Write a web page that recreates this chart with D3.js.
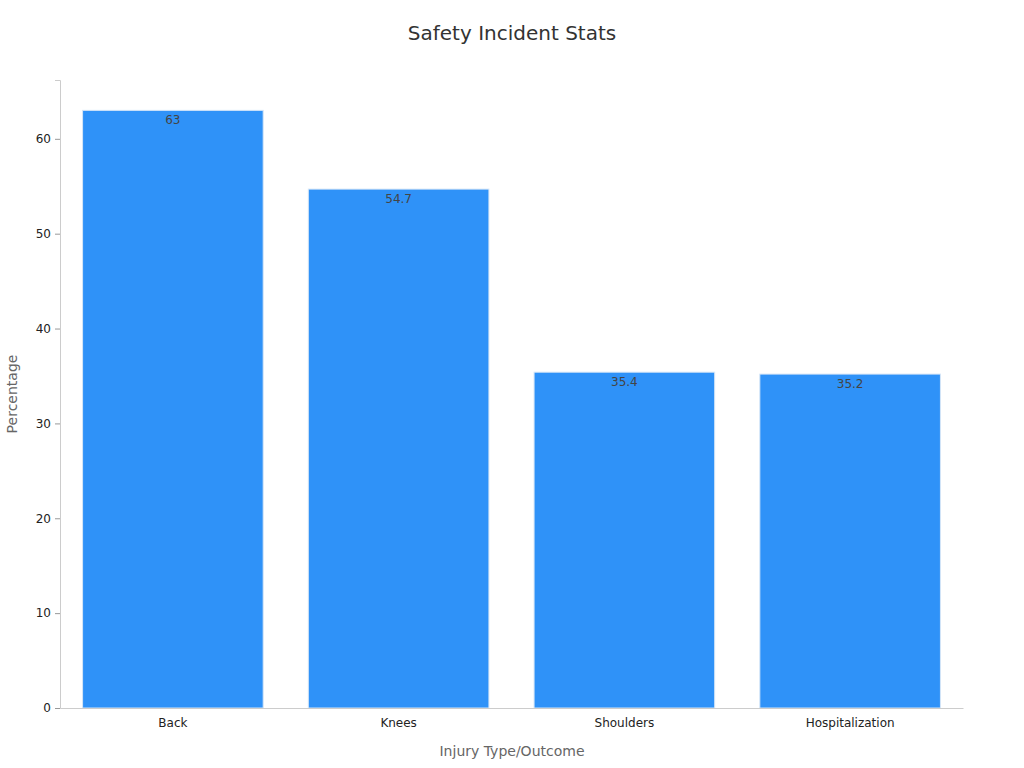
<!DOCTYPE html>
<html><head><meta charset="utf-8">
<script src="https://cdn.jsdelivr.net/npm/d3@7"></script>
<style>body{margin:0;background:#fff;font-family:"DejaVu Sans",sans-serif}</style>
</head><body>
<script>
var categories = ["Back", "Knees", "Shoulders", "Hospitalization"];
var values = [63, 54.7, 35.4, 35.2];
var yTicks = [0, 10, 20, 30, 40, 50, 60];

var w = 1024, h = 768;
var mLeft = 60, mRight = 963, mTop = 80, mBottom = 708;

var svg = d3.select("body").append("svg").attr("width", w).attr("height", h);

var x = d3.scaleBand().domain(categories).range([mLeft, mRight]).paddingInner(0.2).paddingOuter(0.1);
var y = d3.scaleLinear().domain([0, 66.2]).range([mBottom, mTop]);

svg.selectAll("rect.bar").data(values).enter().append("rect")
    .attr("class", "bar")
    .attr("x", function(d, i) { return x(categories[i]); })
    .attr("y", function(d) { return y(d); })
    .attr("width", x.bandwidth())
    .attr("height", function(d) { return mBottom - y(d); })
    .attr("fill", "#2f92f8")
    .attr("stroke", "#d6e6f7")
    .attr("stroke-width", 1);

svg.selectAll("text.val").data(values).enter().append("text")
    .attr("class", "val")
    .attr("x", function(d, i) { return x(categories[i]) + x.bandwidth() / 2; })
    .attr("y", function(d) { return y(d) + 14; })
    .attr("text-anchor", "middle")
    .attr("font-size", "12px")
    .attr("fill", "#444")
    .text(function(d) { return d; });

var yAxis = svg.append("g").attr("transform", "translate(" + mLeft + ",0)")
    .call(d3.axisLeft(y).tickValues(yTicks).tickSize(5).tickPadding(4));
var xAxis = svg.append("g").attr("transform", "translate(0," + mBottom + ")")
    .call(d3.axisBottom(x).tickSize(0).tickPadding(10));
[yAxis, xAxis].forEach(function(a) {
    a.select(".domain").attr("stroke", "#ccc");
    a.selectAll(".tick line").attr("stroke", "#999");
    a.selectAll("text").attr("font-size", "12px").attr("fill", "#222")
        .attr("font-family", "DejaVu Sans, sans-serif");
});

svg.append("text").attr("x", 512).attr("y", 40).attr("text-anchor", "middle")
    .attr("font-size", "20px").attr("fill", "#333").text("Safety Incident Stats");
svg.append("text").attr("x", 512).attr("y", 756).attr("text-anchor", "middle")
    .attr("font-size", "14px").attr("fill", "#666").text("Injury Type/Outcome");
svg.append("text").attr("transform", "translate(17,394) rotate(-90)").attr("text-anchor", "middle")
    .attr("font-size", "14px").attr("fill", "#666").text("Percentage");
</script>
</body></html>
